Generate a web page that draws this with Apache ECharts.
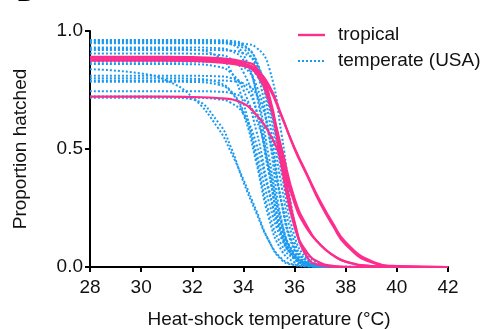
<!DOCTYPE html>
<html>
<head>
<meta charset="utf-8">
<script src="https://cdn.jsdelivr.net/npm/echarts@6/dist/echarts.min.js"></script>
<style>
html,body{margin:0;padding:0;background:#fff;}
#chart{width:487px;height:329px;}
</style>
</head>
<body>
<div id="chart"></div>
<script>
// x positions (°C) at which curve values were read
const xsBlue = [28, 30, 31, 32, 33, 33.5, 34, 34.5, 35, 35.5, 36, 36.5, 37, 38, 42];
const xsPink = [28, 31, 32, 33, 34, 34.5, 35, 35.5, 36, 36.5, 37, 37.5, 38, 39, 40, 42];

// temperate (USA) curves – proportion hatched
const blue1  = [0.962,0.962,0.962,0.962,0.961,0.958,0.942,0.870,0.630,0.267,0.069,0.015,0.003,0,0];
const blue2  = [0.955,0.955,0.955,0.955,0.954,0.951,0.936,0.876,0.679,0.338,0.104,0.025,0.006,0,0];
const blue3  = [0.948,0.948,0.948,0.948,0.948,0.944,0.926,0.839,0.554,0.194,0.042,0.008,0.002,0,0];
const blue4  = [0.93,0.93,0.93,0.93,0.927,0.916,0.877,0.746,0.465,0.184,0.053,0.014,0.003,0,0];
const blue5  = [0.92,0.92,0.92,0.92,0.919,0.917,0.906,0.862,0.707,0.392,0.131,0.033,0.008,0,0];
const blue6  = [0.905,0.905,0.905,0.904,0.899,0.882,0.825,0.669,0.394,0.157,0.049,0.014,0.004,0,0];
const blue7  = [0.88,0.88,0.88,0.88,0.878,0.873,0.850,0.772,0.560,0.265,0.085,0.023,0.006,0,0];
const blue8  = [0.86,0.86,0.86,0.859,0.849,0.824,0.750,0.579,0.329,0.135,0.046,0.014,0.004,0,0];
const blue9  = [0.81,0.81,0.81,0.81,0.808,0.801,0.772,0.663,0.405,0.147,0.038,0.009,0.002,0,0];
const blue10 = [0.80,0.80,0.80,0.798,0.782,0.747,0.659,0.487,0.273,0.117,0.043,0.015,0.005,0.001,0];
const blue11 = [0.79,0.79,0.79,0.79,0.79,0.788,0.778,0.733,0.571,0.273,0.076,0.017,0.003,0,0];
const blue12 = [0.785,0.785,0.785,0.784,0.773,0.743,0.648,0.443,0.205,0.069,0.020,0.006,0.002,0,0];
const blue13 = [0.745,0.745,0.745,0.745,0.743,0.737,0.712,0.628,0.424,0.183,0.055,0.015,0.004,0,0];
const blue14 = [0.717,0.717,0.717,0.717,0.711,0.696,0.649,0.524,0.314,0.130,0.043,0.013,0.004,0,0];
const blue15 = [0.925,0.925,0.925,0.921,0.892,0.833,0.694,0.463,0.231,0.092,0.033,0.011,0.004,0,0];
const blue16 = [0.87,0.87,0.87,0.87,0.869,0.866,0.855,0.815,0.691,0.435,0.179,0.055,0.015,0.001,0];
const blue17 = [0.95,0.95,0.95,0.95,0.95,0.949,0.946,0.930,0.846,0.557,0.188,0.039,0.007,0,0];
const blue18 = [0.96,0.96,0.96,0.96,0.957,0.946,0.900,0.738,0.409,0.136,0.034,0.008,0.002,0,0];
const blue19 = [0.838,0.82,0.79,0.72,0.59,0.49,0.37,0.24,0.11,0.03,0.008,0.002,0,0,0];
const blue20 = [0.722,0.722,0.72,0.71,0.615,0.51,0.36,0.23,0.11,0.035,0.01,0.003,0.001,0,0];

// tropical curves
const pink1 = [0.887,0.887,0.885,0.878,0.862,0.835,0.77,0.64,0.50,0.385,0.27,0.175,0.095,0.02,0.003,0];
const pink2 = [0.875,0.875,0.873,0.867,0.852,0.825,0.76,0.635,0.505,0.39,0.28,0.185,0.105,0.025,0.004,0];
const pink3 = [0.89,0.89,0.889,0.885,0.87,0.845,0.73,0.47,0.27,0.16,0.095,0.05,0.023,0.004,0.001,0];
const pink4 = [0.875,0.875,0.874,0.87,0.855,0.82,0.70,0.50,0.29,0.17,0.095,0.05,0.022,0.004,0.001,0];
const pink5 = [0.88,0.88,0.879,0.875,0.86,0.83,0.72,0.42,0.17,0.06,0.018,0.005,0.001,0,0,0];
const pink6 = [0.722,0.722,0.72,0.716,0.693,0.645,0.57,0.44,0.19,0.04,0.008,0.002,0,0,0,0];

const blueCurves = [blue1,blue2,blue3,blue4,blue5,blue6,blue7,blue8,blue9,blue10,blue11,blue12,blue13,blue14,blue15,blue16,blue17,blue18,blue19,blue20];
const pinkCurves = [pink1,pink2,pink3,pink4,pink5,pink6];

const xTicks = [28, 30, 32, 34, 36, 38, 40, 42];
const yTicks = [0, 0.5, 1.0];
const legendNames = ['tropical', 'temperate (USA)'];

const BLUE = '#1b9af0';
const PINK = '#fc2d8c';
const TXT = '#111';
const FONT = '"Liberation Sans", Arial, Helvetica, sans-serif';

const series = [];
blueCurves.forEach(function (vals) {
  series.push({
    name: legendNames[1], type: 'line', symbol: 'none', smooth: 0.5,
    data: vals.map(function (v, i) { return [xsBlue[i], v]; }),
    lineStyle: { color: BLUE, width: 2, type: [2, 2] }, itemStyle: { color: BLUE },
    z: 2, silent: true
  });
});
pinkCurves.forEach(function (vals) {
  series.push({
    name: legendNames[0], type: 'line', symbol: 'none', smooth: 0.5,
    data: vals.map(function (v, i) { return [xsPink[i], v]; }),
    lineStyle: { color: PINK, width: 2.2 }, itemStyle: { color: PINK },
    z: 3, silent: true
  });
});

const chart = echarts.init(document.getElementById('chart'), null, { renderer: 'canvas' });
chart.setOption({
  animation: false,
  backgroundColor: '#ffffff',
  textStyle: { fontFamily: FONT },
  title: { text: 'B', left: 12, top: -21, textStyle: { fontSize: 22, fontWeight: 'bold', color: '#000', fontFamily: FONT } },
  grid: { left: 90, right: 39, top: 31, bottom: 62, containLabel: false, outerBoundsMode: 'none' },
  graphic: [
    { type: 'line', shape: { x1: 298, y1: 35, x2: 325, y2: 35 }, style: { stroke: PINK, lineWidth: 2.4 } },
    { type: 'line', shape: { x1: 298, y1: 61, x2: 325, y2: 61 }, style: { stroke: BLUE, lineWidth: 2, lineDash: [2, 2] } },
    { type: 'text', x: 338, y: 35, style: { text: legendNames[0], fill: TXT, font: '19px ' + FONT, textVerticalAlign: 'middle', verticalAlign: 'middle' } },
    { type: 'text', x: 338, y: 61, style: { text: legendNames[1], fill: TXT, font: '19px ' + FONT, textVerticalAlign: 'middle', verticalAlign: 'middle' } }
  ],
  xAxis: {
    type: 'value', min: 28, max: 42, interval: 2,
    name: 'Heat-shock temperature (°C)', nameLocation: 'middle', nameGap: 43,
    nameTextStyle: { fontSize: 19, color: TXT, fontFamily: FONT },
    axisLine: { show: true, onZero: false, lineStyle: { color: '#000', width: 2 } },
    axisTick: { show: true, length: 5, lineStyle: { color: '#000', width: 2 } },
    axisLabel: { fontSize: 19, color: TXT, margin: 11, fontFamily: FONT,
      formatter: function (v) { return xTicks.indexOf(v) >= 0 ? String(v) : ''; } },
    splitLine: { show: false }
  },
  yAxis: {
    type: 'value', min: 0, max: 1, interval: 0.5,
    name: 'Proportion hatched', nameLocation: 'middle', nameGap: 60,
    nameTextStyle: { fontSize: 19, color: TXT, fontFamily: FONT },
    axisLine: { show: true, lineStyle: { color: '#000', width: 2 } },
    axisTick: { show: true, length: 5, lineStyle: { color: '#000', width: 2 } },
    axisLabel: { fontSize: 19, color: TXT, margin: 7, fontFamily: FONT,
      formatter: function (v) { return yTicks.indexOf(v) >= 0 ? v.toFixed(1) : ''; } },
    splitLine: { show: false }
  },
  series: series
});
</script>
</body>
</html>
